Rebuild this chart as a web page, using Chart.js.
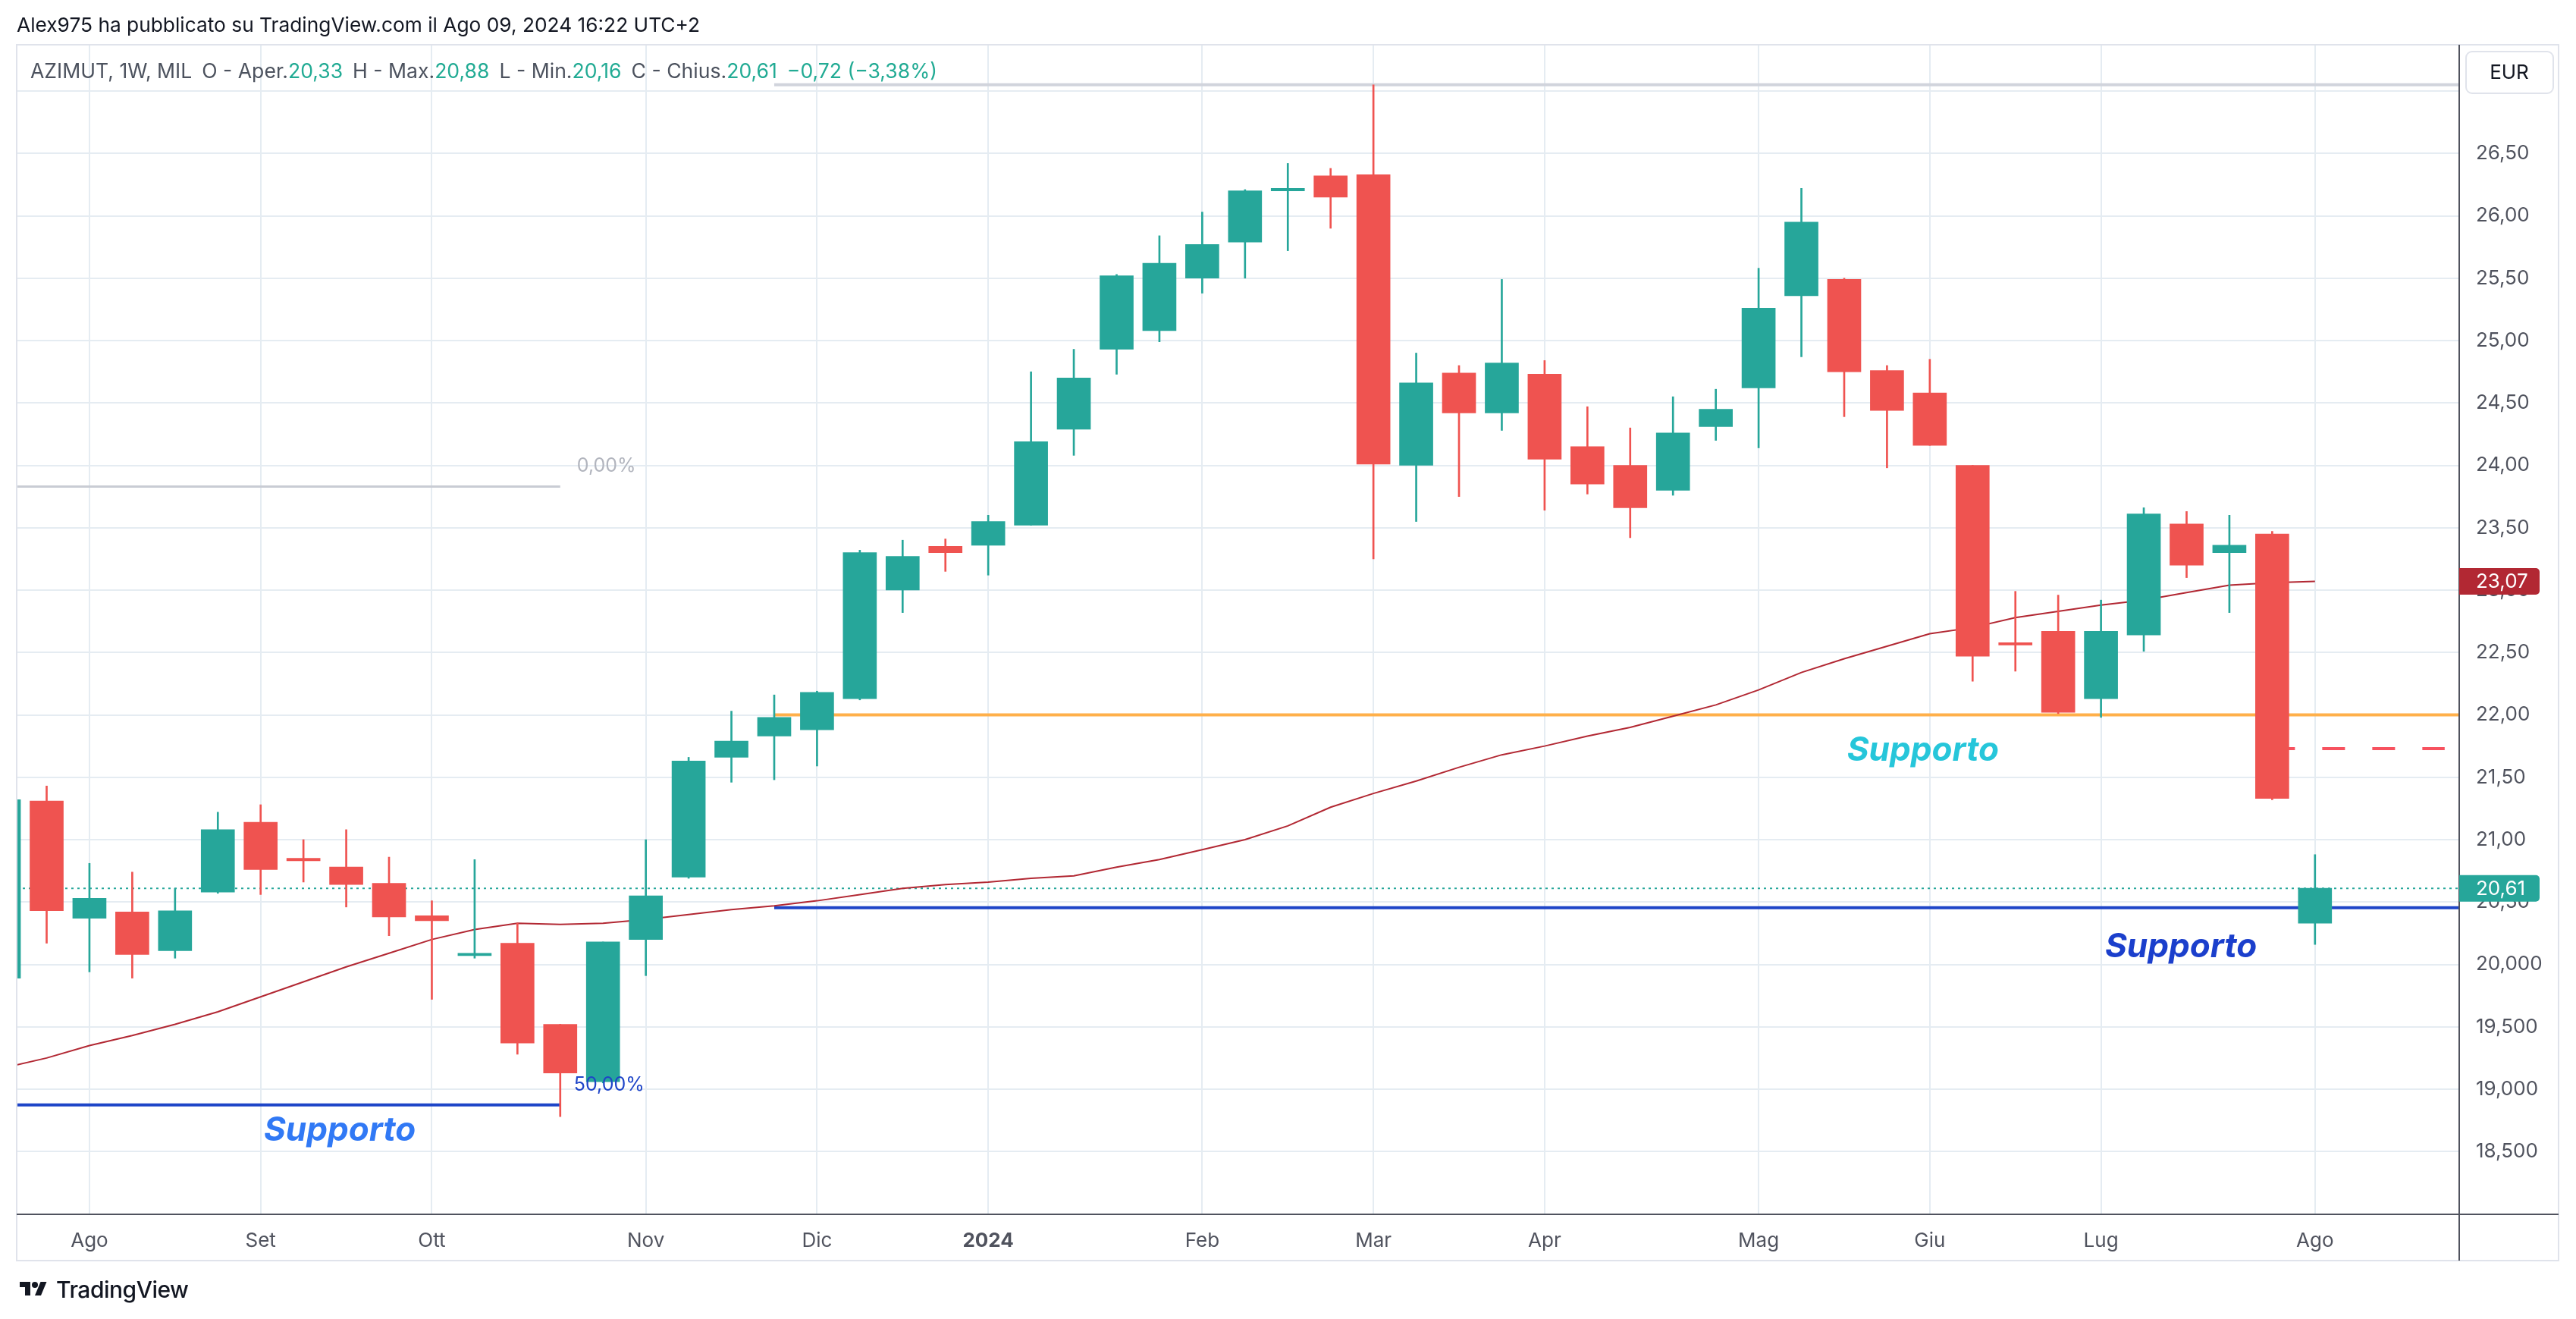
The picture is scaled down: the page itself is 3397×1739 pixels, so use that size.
<!DOCTYPE html>
<html>
<head>
<meta charset="utf-8">
<script src="https://cdn.jsdelivr.net/npm/chart.js@4.4.1/dist/chart.umd.min.js"></script>
<style>
  html, body { margin: 0; padding: 0; background: #fff; }
  #wrap { position: relative; width: 3397px; height: 1739px; overflow: hidden; font-family: Inter, "Noto Sans", sans-serif; }
  #myChart { position: absolute; left: 0; top: 0; }
  #hdr { position: absolute; left: 22px; top: 17px; font-size: 26.3px; line-height: 32px; color: #131722; white-space: nowrap; }
  #lgd { position: absolute; left: 40px; top: 77px; font-size: 26.6px; line-height: 32px; color: #4c525e; white-space: nowrap; }
  #lgd .v { color: #22ab94; }
  #lgd .g { margin-left: 13px; }
  #foot { position: absolute; left: 22px; top: 1684px; height: 32px; display: flex; align-items: center; color: #131722; }
  #foot span { font-size: 30px; font-weight: 500; margin-left: 8px; letter-spacing: -0.5px; }
</style>
</head>
<body>
<div id="wrap">
  <canvas id="myChart" width="3397" height="1739"></canvas>
  <div id="hdr">Alex975 ha pubblicato su TradingView.com il Ago 09, 2024 16:22 UTC+2</div>
  <div id="lgd">AZIMUT, 1W, MIL<span class="g">O - Aper.</span><span class="v">20,33</span><span class="g">H - Max.</span><span class="v">20,88</span><span class="g">L - Min.</span><span class="v">20,16</span><span class="g">C - Chius.</span><span class="v">20,61</span><span class="v g">−0,72 (−3,38%)</span></div>
  <div id="foot">
    <svg width="44" height="28" viewBox="0 0 36 28"><path d="M14 22H7V11H0V4h14v18zM28 22h-8l7.5-18h8L28 22z" fill="#131722"/><circle cx="20" cy="8" r="4" fill="#131722"/></svg>
    <span>TradingView</span>
  </div>
</div>
<script>
// weekly bars, AZIMUT (MIL), first one is only partly visible at the left edge
const weekStart = [
  '2023-07-24', '2023-07-31', '2023-08-07', '2023-08-14', '2023-08-21', '2023-08-28',
  '2023-09-04', '2023-09-11', '2023-09-18', '2023-09-25', '2023-10-02', '2023-10-09',
  '2023-10-16', '2023-10-23', '2023-10-30', '2023-11-06', '2023-11-13', '2023-11-20',
  '2023-11-27', '2023-12-04', '2023-12-11', '2023-12-18', '2023-12-25', '2024-01-01',
  '2024-01-08', '2024-01-15', '2024-01-22', '2024-01-29', '2024-02-05', '2024-02-12',
  '2024-02-19', '2024-02-26', '2024-03-04', '2024-03-11', '2024-03-18', '2024-03-25',
  '2024-04-01', '2024-04-08', '2024-04-15', '2024-04-22', '2024-04-29', '2024-05-06',
  '2024-05-13', '2024-05-20', '2024-05-27', '2024-06-03', '2024-06-10', '2024-06-17',
  '2024-06-24', '2024-07-01', '2024-07-08', '2024-07-15', '2024-07-22', '2024-07-29',
  '2024-08-05'
];
const openP = [
  19.89, 21.31, 20.37, 20.42, 20.11, 20.58, 21.14, 20.85, 20.78, 20.65, 20.39, 20.07,
  20.17, 19.52, 19.06, 20.20, 20.70, 21.66, 21.83, 21.88, 22.13, 23.00, 23.35, 23.36,
  23.52, 24.29, 24.93, 25.08, 25.50, 25.79, 26.20, 26.32, 26.33, 24.00, 24.74, 24.42,
  24.73, 24.15, 24.00, 23.80, 24.31, 24.62, 25.36, 25.49, 24.76, 24.58, 24.00, 22.57,
  22.67, 22.13, 22.64, 23.53, 23.30, 23.45, 20.33
];
const highP = [
  21.36, 21.43, 20.81, 20.74, 20.61, 21.22, 21.28, 21.00, 21.08, 20.86, 20.51, 20.84,
  20.33, 19.52, 20.18, 21.00, 21.66, 22.03, 22.16, 22.19, 23.32, 23.40, 23.41, 23.60,
  24.75, 24.93, 25.53, 25.84, 26.03, 26.21, 26.42, 26.38, 27.05, 24.90, 24.80, 25.49,
  24.84, 24.47, 24.30, 24.55, 24.61, 25.58, 26.22, 25.50, 24.80, 24.85, 24.00, 22.99,
  22.96, 22.92, 23.66, 23.63, 23.60, 23.47, 20.88
];
const lowP = [
  19.85, 20.17, 19.94, 19.89, 20.05, 20.57, 20.56, 20.66, 20.46, 20.23, 19.72, 20.05,
  19.28, 18.78, 19.05, 19.91, 20.69, 21.46, 21.48, 21.59, 22.12, 22.82, 23.15, 23.12,
  23.52, 24.08, 24.73, 24.99, 25.38, 25.50, 25.72, 25.90, 23.25, 23.55, 23.75, 24.28,
  23.64, 23.77, 23.42, 23.76, 24.20, 24.14, 24.87, 24.39, 23.98, 24.16, 22.27, 22.35,
  22.01, 21.98, 22.51, 23.10, 22.82, 21.32, 20.16
];
const closeP = [
  21.32, 20.43, 20.53, 20.08, 20.43, 21.08, 20.76, 20.83, 20.64, 20.38, 20.35, 20.09,
  19.37, 19.13, 20.18, 20.55, 21.63, 21.79, 21.98, 22.18, 23.30, 23.27, 23.30, 23.55,
  24.19, 24.70, 25.52, 25.62, 25.77, 26.20, 26.22, 26.15, 24.01, 24.66, 24.42, 24.82,
  24.05, 23.85, 23.66, 24.26, 24.45, 25.26, 25.95, 24.75, 24.44, 24.16, 22.47, 22.56,
  22.02, 22.67, 23.61, 23.20, 23.36, 21.33, 20.61
];
// moving average drawn in dark red
const maLine = [
  19.17, 19.25, 19.35, 19.43, 19.52, 19.62, 19.74, 19.86, 19.98, 20.09, 20.20, 20.28,
  20.33, 20.32, 20.33, 20.36, 20.40, 20.44, 20.47, 20.51, 20.56, 20.61, 20.64, 20.66,
  20.69, 20.71, 20.78, 20.84, 20.92, 21.00, 21.11, 21.26, 21.37, 21.47, 21.58, 21.68,
  21.75, 21.83, 21.90, 21.99, 22.08, 22.20, 22.34, 22.45, 22.55, 22.65, 22.70, 22.78,
  22.83, 22.88, 22.92, 22.98, 23.04, 23.06, 23.07
];
const firstIndex = -2; // week 0 = 2023-08-07

const monthTickIdx = [0, 4, 8, 13, 17, 21, 26, 30, 34, 39, 43, 47, 52];
const monthTickLabels = ['Ago', 'Set', 'Ott', 'Nov', 'Dic', '2024', 'Feb', 'Mar', 'Apr', 'Mag', 'Giu', 'Lug', 'Ago'];
const priceTicks = [18.5, 19, 19.5, 20, 20.5, 21, 21.5, 22, 22.5, 23, 23.5, 24, 24.5, 25, 25.5, 26, 26.5, 27];
const priceTickLabels = ['18,500', '19,000', '19,500', '20,000', '20,50', '21,00', '21,50', '22,00', '22,50',
  '23,00', '23,50', '24,00', '24,50', '25,00', '25,50', '26,00', '26,50', ''];

// drawings on the chart (price levels, and the bar index where they start / end)
const supportOrange = 22.0;
const supportBlue = 20.455;
const fibHalf = 18.874;
const fibZero = 23.83;
const topLevel = 27.05;
const projection = 21.73;
const levelFrom = 16;
const fibTo = 11;
const projFrom = 51;
const projTo = 55.03;

const xRange = [-1.70, 55.37];
const yRange = [17.997, 27.371];

const TEAL = '#26a69a';
const RED = '#ef5350';
const GRID = '#e5ecf2';
const AXIS_TXT = '#50535e';
const FONT = 'Inter, "Noto Sans", sans-serif';

const idx = weekStart.map((d, k) => k + firstIndex);
const candleColor = closeP.map((c, k) => (c >= openP[k] ? TEAL : RED));
const lastClose = closeP[closeP.length - 1];
const lastMa = maLine[maLine.length - 1];

function hLine(y, x0, x1) {
  return [{ x: x0, y: y }, { x: x1, y: y }];
}

const decor = {
  id: 'decor',
  afterDraw(chart) {
    const c = chart.ctx;
    const a = chart.chartArea;
    const xs = chart.scales.x;
    const ys = chart.scales.y;
    const frameR = a.right + ys.width;
    const frameB = a.bottom + xs.height;
    c.save();
    // outer frame
    c.strokeStyle = '#e0e3eb';
    c.lineWidth = 2;
    c.strokeRect(a.left, a.top, frameR - a.left, frameB - a.top);
    // axis lines
    c.strokeStyle = '#50535e';
    c.lineWidth = 2;
    c.beginPath();
    c.moveTo(a.right, a.top); c.lineTo(a.right, frameB);
    c.moveTo(a.left, a.bottom); c.lineTo(frameR, a.bottom);
    c.stroke();

    // EUR box
    c.fillStyle = '#fff';
    c.strokeStyle = '#e0e3eb';
    c.lineWidth = 2;
    c.beginPath();
    c.roundRect(a.right + 9, a.top + 9, 115, 55, 8);
    c.fill(); c.stroke();
    c.fillStyle = '#131722';
    c.font = '26px ' + FONT;
    c.textAlign = 'center';
    c.textBaseline = 'middle';
    c.fillText('EUR', a.right + 66, a.top + 37);

    // last value labels on the price axis
    function priceTag(v, bg) {
      const y = ys.getPixelForValue(v);
      c.fillStyle = bg;
      c.beginPath();
      c.roundRect(a.right, y - 17.5, 106, 35, [0, 5, 5, 0]);
      c.fill();
      c.fillStyle = '#fff';
      c.font = '26px ' + FONT;
      c.textAlign = 'left';
      c.textBaseline = 'middle';
      c.fillText(v.toFixed(2).replace('.', ','), a.right + 22, y + 1);
    }
    priceTag(lastMa, '#b22833');
    priceTag(lastClose, TEAL);

    // chart annotations
    c.save();
    c.beginPath();
    c.rect(a.left, a.top, a.right - a.left, a.bottom - a.top);
    c.clip();
    c.font = '25px ' + FONT;
    c.textAlign = 'left';
    c.textBaseline = 'middle';
    c.fillStyle = '#b2b5be';
    c.fillText('0,00%', xs.getPixelForValue(fibTo) + 22, ys.getPixelForValue(fibZero) - 27);
    c.fillStyle = '#1e45c8';
    c.fillText('50,00%', xs.getPixelForValue(fibTo) + 18, ys.getPixelForValue(fibHalf) - 26);

    c.font = 'italic 700 44px ' + FONT;
    c.textAlign = 'center';
    c.fillStyle = '#3179f5';
    c.fillText('Supporto', xs.getPixelForValue(5.85), ys.getPixelForValue(18.666));
    c.fillStyle = '#26c6da';
    c.fillText('Supporto', xs.getPixelForValue(42.84), ys.getPixelForValue(21.71));
    c.fillStyle = '#1b3fcc';
    c.fillText('Supporto', xs.getPixelForValue(48.87), ys.getPixelForValue(20.14));
    c.restore();
    c.restore();
  }
};

const ctx = document.getElementById('myChart').getContext('2d');

const myChart = new Chart(ctx, {
  type: 'bar',
  data: {
    datasets: [
      {
        label: 'corpo',
        data: idx.map((x, k) => ({ x: x, y: [openP[k], closeP[k]] })),
        backgroundColor: candleColor,
        barThickness: 44,
        minBarLength: 3,
        grouped: false,
        clip: 0,
        order: 0
      },
      {
        label: 'ombra',
        data: idx.map((x, k) => ({ x: x, y: [lowP[k], highP[k]] })),
        backgroundColor: candleColor,
        barThickness: 2,
        grouped: false,
        clip: 0,
        order: 1
      },
      {
        type: 'line',
        label: 'MA',
        data: idx.map((x, k) => ({ x: x, y: maLine[k] })),
        borderColor: '#b22833',
        borderWidth: 2,
        pointRadius: 0,
        order: 2
      },
      {
        type: 'line',
        data: hLine(supportOrange, levelFrom, xRange[1]),
        borderColor: '#ffb04a',
        borderWidth: 4,
        pointRadius: 0,
        order: 3
      },
      {
        type: 'line',
        data: hLine(supportBlue, levelFrom, xRange[1]),
        borderColor: '#1e45c8',
        borderWidth: 4,
        pointRadius: 0,
        order: 3
      },
      {
        type: 'line',
        data: hLine(topLevel, levelFrom, xRange[1]),
        borderColor: '#d1d4dc',
        borderWidth: 4,
        pointRadius: 0,
        order: 3
      },
      {
        type: 'line',
        data: hLine(fibHalf, xRange[0], fibTo),
        borderColor: '#1e45c8',
        borderWidth: 4,
        pointRadius: 0,
        order: 3
      },
      {
        type: 'line',
        data: hLine(fibZero, xRange[0], fibTo),
        borderColor: '#c9ccd4',
        borderWidth: 3,
        pointRadius: 0,
        order: 3
      },
      {
        type: 'line',
        data: hLine(projection, projFrom, projTo),
        borderColor: '#f7525f',
        borderWidth: 4,
        borderDash: [30, 36],
        pointRadius: 0,
        order: 3
      },
      {
        type: 'line',
        data: hLine(lastClose, xRange[0], xRange[1]),
        borderColor: TEAL,
        borderWidth: 2,
        borderDash: [3, 5],
        pointRadius: 0,
        order: 3
      }
    ]
  },
  options: {
    responsive: false,
    devicePixelRatio: 1,
    animation: false,
    layout: { padding: { left: 22, top: 59, right: 23, bottom: 77 } },
    plugins: {
      legend: { display: false },
      tooltip: { enabled: false }
    },
    scales: {
      x: {
        type: 'linear',
        min: xRange[0],
        max: xRange[1],
        offset: false,
        grid: { color: GRID, lineWidth: 2, drawTicks: false, offset: false },
        border: { display: false },
        afterBuildTicks: (s) => { s.ticks = monthTickIdx.map((v) => ({ value: v })); },
        afterFit: (s) => { s.height = 61; },
        ticks: {
          autoSkip: false,
          maxRotation: 0,
          padding: 20,
          color: AXIS_TXT,
          font: (c) => ({ family: FONT, size: 26, weight: c.tick && c.tick.label === '2024' ? '700' : '400' }),
          callback: (v) => monthTickLabels[monthTickIdx.indexOf(v)]
        }
      },
      y: {
        type: 'linear',
        position: 'right',
        min: yRange[0],
        max: yRange[1],
        grid: { color: GRID, lineWidth: 2, drawTicks: false },
        border: { display: false },
        afterBuildTicks: (s) => { s.ticks = priceTicks.map((v) => ({ value: v })); },
        afterFit: (s) => { s.width = 131; },
        ticks: {
          padding: 22,
          color: AXIS_TXT,
          font: { family: FONT, size: 26 },
          callback: (v) => priceTickLabels[priceTicks.indexOf(v)]
        }
      }
    }
  },
  plugins: [decor]
});
</script>
</body>
</html>
